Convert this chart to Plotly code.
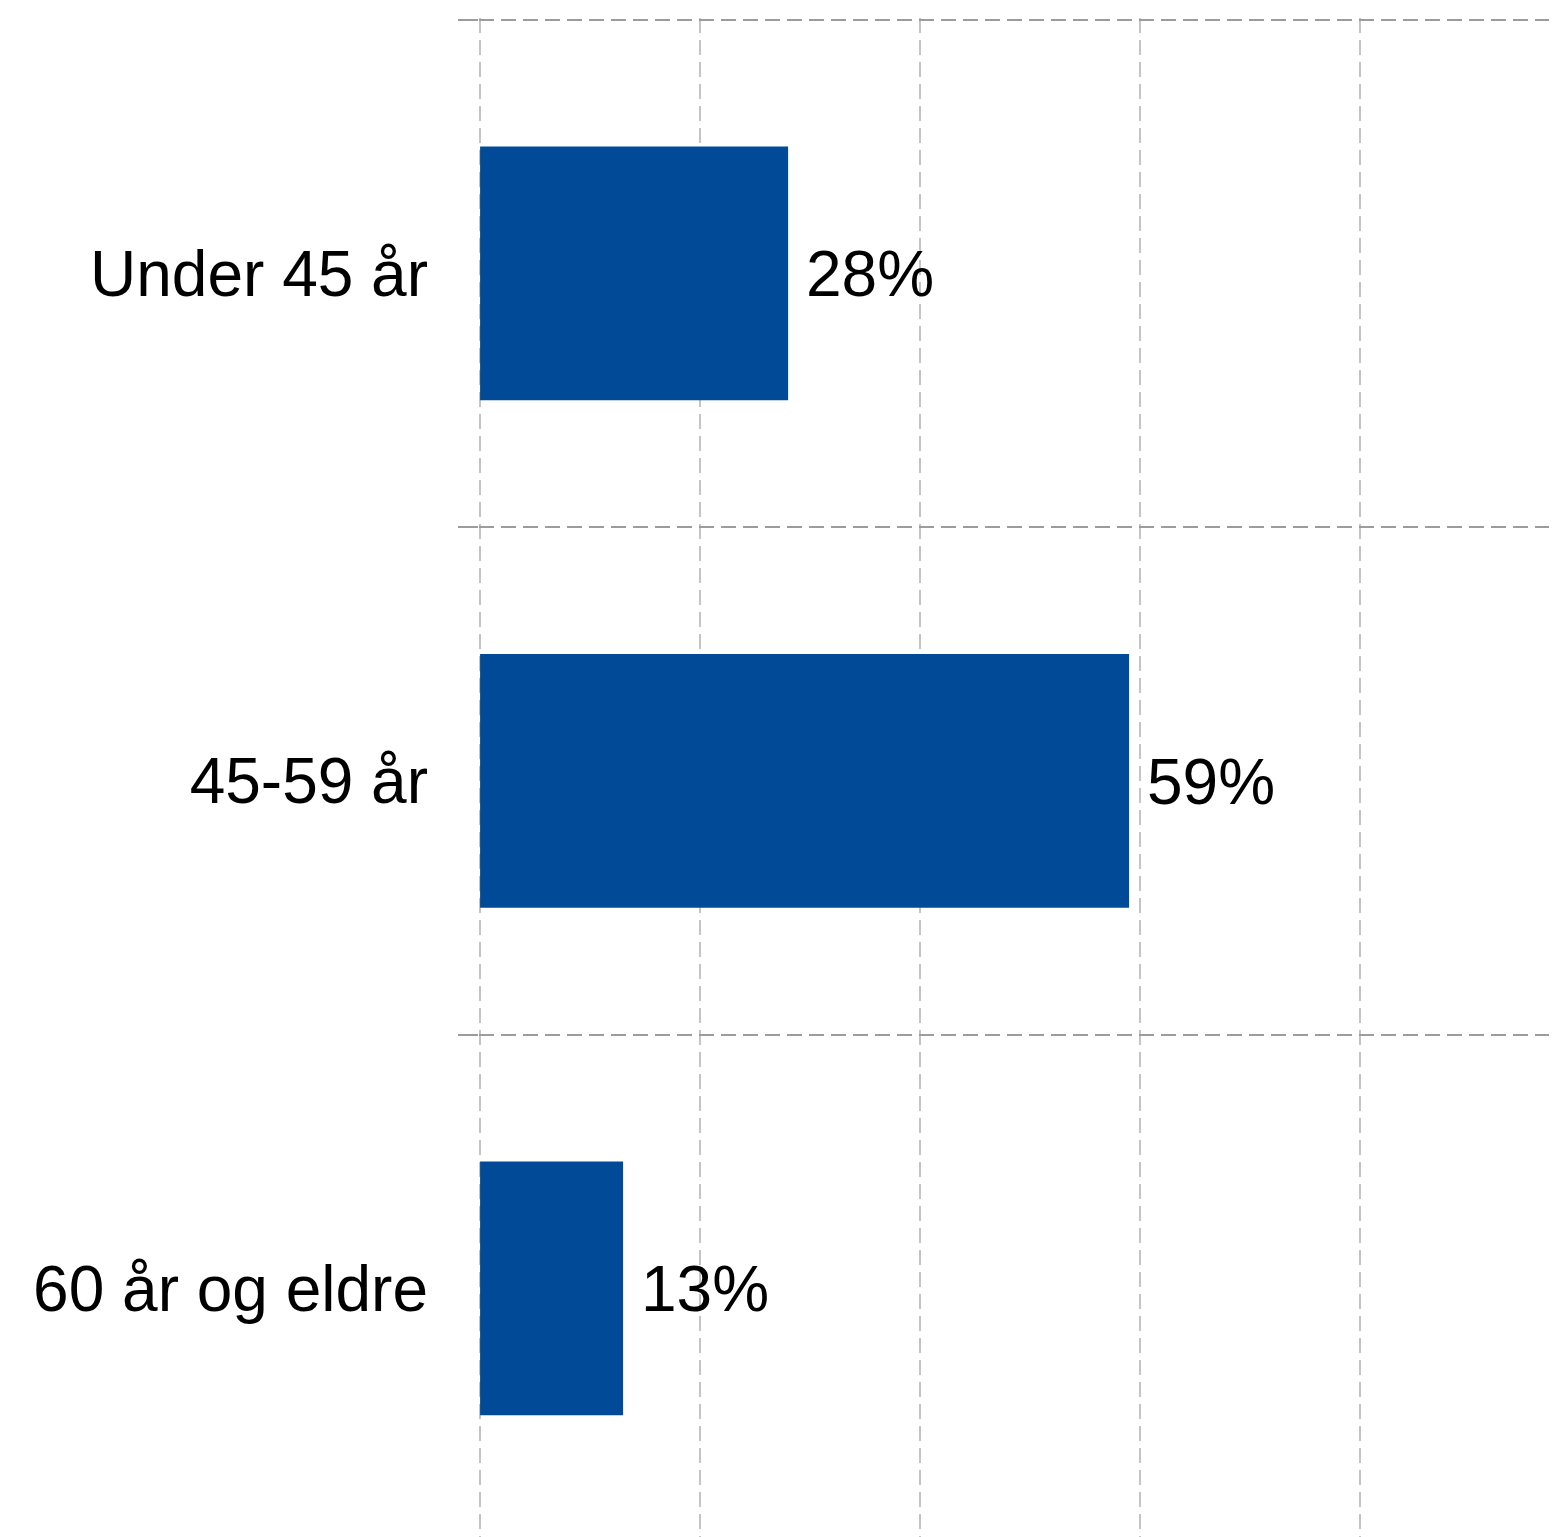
import plotly.graph_objects as go

categories = ["Under 45 år", "45-59 år", "60 år og eldre"]
values = [28, 59, 13]
x_ticks = [0, 20, 40, 60, 80]

BAR_COLOR = "#004A97"
FONT = "Liberation Sans, Arial, sans-serif"

fig = go.Figure()
fig.add_trace(go.Bar(
    x=values,
    y=categories,
    orientation="h",
    marker=dict(color=BAR_COLOR, line=dict(width=0)),
    width=0.5,
    hoverinfo="skip",
))

for c, v in zip(categories, values):
    fig.add_annotation(
        x=v, y=c, text=f"{v}%", showarrow=False,
        xanchor="left", yanchor="middle", xshift=16, yshift=-1,
        font=dict(family=FONT, size=64, color="black"),
    )

fig.update_layout(
    width=1549, height=1529,
    margin=dict(l=471, r=0, t=10, b=0, pad=0),
    paper_bgcolor="white", plot_bgcolor="white",
    showlegend=False,
    font=dict(family=FONT, size=64, color="black"),
)

fig.update_xaxes(
    range=[-0.1, 97.9],
    tickvals=x_ticks,
    showticklabels=False,
    showgrid=True, gridcolor="#c4c4c4", gridwidth=2, griddash="15px,7px",
    zeroline=False, showline=False, ticks="",
    fixedrange=True,
)

fig.update_yaxes(
    type="category",
    categoryorder="array", categoryarray=categories,
    range=[2.49, -0.503],
    tickson="boundaries",
    ticks="outside", ticklen=20, tickcolor="#9c9c9c", tickwidth=2,
    ticklabelstandoff=50,
    showgrid=True, gridcolor="#9c9c9c", gridwidth=2, griddash="15px,7px",
    zeroline=False, showline=False,
    tickfont=dict(family=FONT, size=64, color="black"),
    fixedrange=True,
)

fig.write_html("out.html")
